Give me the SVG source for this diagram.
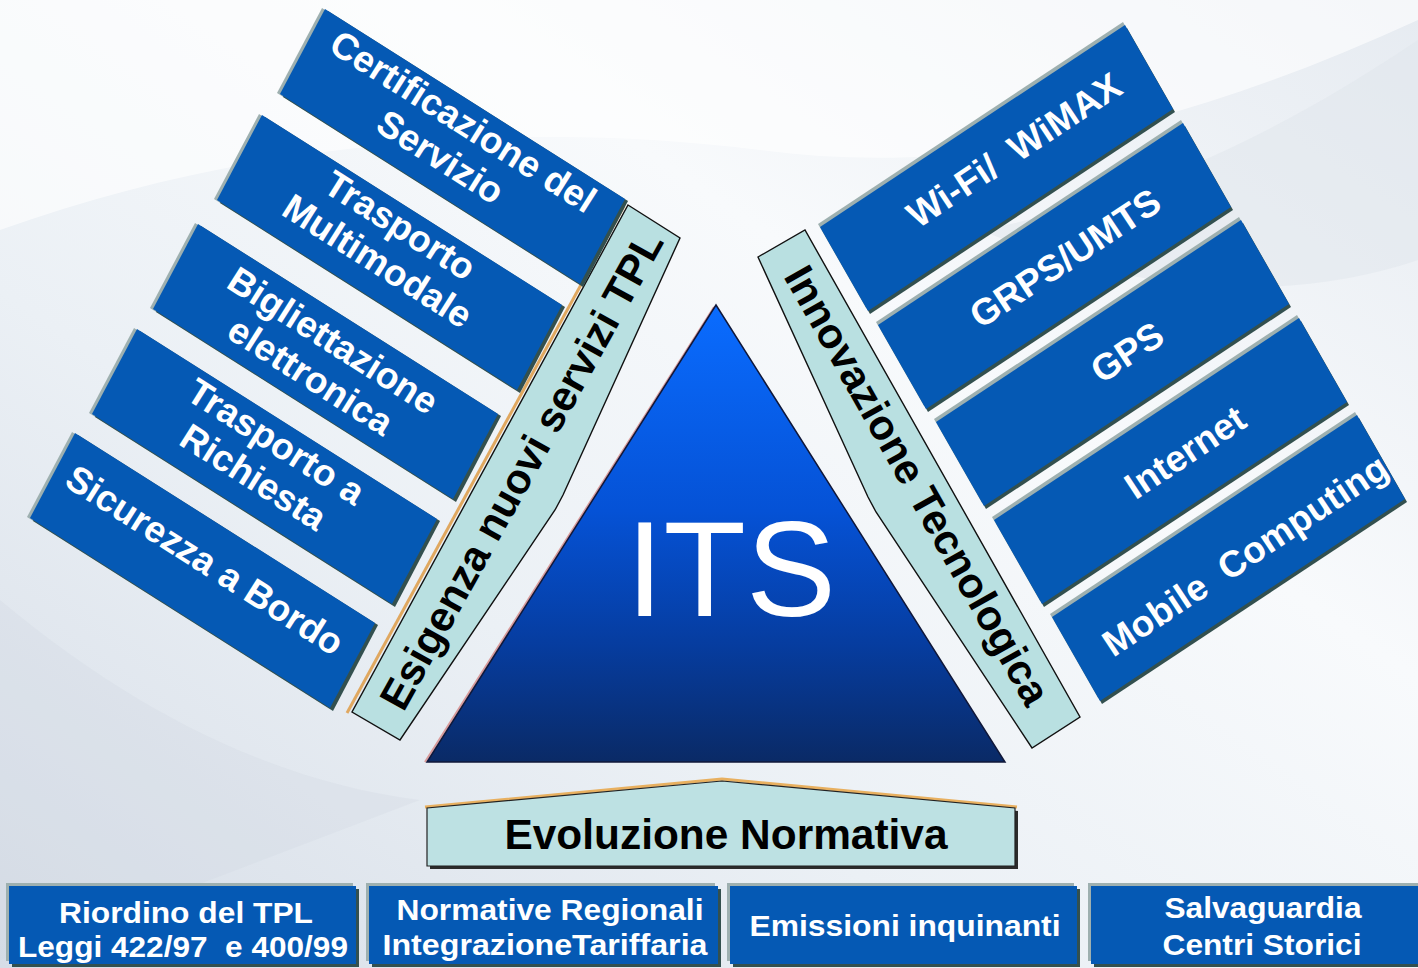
<svg xmlns="http://www.w3.org/2000/svg" width="1418" height="968" viewBox="0 0 1418 968">
<defs>
<linearGradient id="bg" x1="0" y1="1" x2="1" y2="0">
<stop offset="0" stop-color="#d6dde7"/>
<stop offset="0.35" stop-color="#ebf0f5"/>
<stop offset="0.65" stop-color="#f8fafc"/>
<stop offset="1" stop-color="#e6ebf1"/>
</linearGradient>
<linearGradient id="tri" x1="0" y1="0" x2="0" y2="1">
<stop offset="0" stop-color="#0a6cff"/>
<stop offset="0.45" stop-color="#0552d6"/>
<stop offset="0.75" stop-color="#063c9e"/>
<stop offset="1" stop-color="#0a2a66"/>
</linearGradient>
<style>
.box{fill:#0559b4}
.dk{fill:#33504f}
.lt{fill:#9eb0b0}
.wt{fill:#ffffff;font-family:"Liberation Sans",Arial,sans-serif;font-weight:bold;font-size:37px;text-anchor:middle}
.bt{fill:#ffffff;font-family:"Liberation Sans",Arial,sans-serif;font-weight:bold;font-size:30px;text-anchor:middle}
.band{fill:#b9e0e1;stroke:#111111;stroke-width:1.4;stroke-linejoin:miter}
.kt{fill:#000000;font-family:"Liberation Sans",Arial,sans-serif;font-weight:bold;font-size:42px;text-anchor:middle}
</style>
</defs>

<rect x="0" y="0" width="1418" height="968" fill="url(#bg)"/>
<path d="M0 230 C 250 140 520 120 760 150 C 980 180 1200 120 1418 20 L1418 0 L0 0 Z" fill="#ffffff" opacity="0.6"/>
<path d="M980 230 C 1150 200 1300 120 1418 40 L1418 260 C 1300 300 1150 300 980 230 Z" fill="#dfe5ec" opacity="0.5"/>
<path d="M0 600 C 120 700 260 780 420 800 L0 960 Z" fill="#cfd7e2" opacity="0.3"/>

<g id="triangle">
<polyline points="714,307 425,762" fill="none" stroke="#d89a9a" stroke-width="2"/>
<polygon points="716,305 427,762 1005,762" fill="url(#tri)" stroke="#10183a" stroke-width="1.5"/>
<text x="731" y="616" fill="#ffffff" font-family="Liberation Sans, Arial, sans-serif" font-size="135" text-anchor="middle">ITS</text>
</g>

<g id="left-band">
<polyline points="626,205 349,712" fill="none" stroke="#e0a860" stroke-width="3" transform="translate(-2,1)"/>
<polygon class="band" points="628,205 680,238 563,495 555,510 400,740 352,712"/>
<text class="kt" transform="translate(521,470) rotate(-61)" x="0" y="15">Esigenza nuovi servizi TPL</text>
</g>

<g id="right-band">
<polygon class="band" points="758,257 805,230 1080,717 1032,748 876,512 868,497"/>
<text class="kt" transform="translate(918,485) rotate(60.6)" x="0" y="15">Innovazione Tecnologica</text>
</g>

<g id="left-1">
<polygon class="lt" points="322,8 622,198 577,283 277,93"/>
<polygon class="dk" points="328,11 628,201 583,287 283,97"/>
<polygon class="box" points="325,9 625,199 580,284 280,94"/>
<g transform="translate(452,139) rotate(32.4)"><text class="wt" x="0" y="-8">Certificazione del</text><text class="wt" x="0" y="34">Servizio</text></g>
</g>
<g id="left-2">
<polygon class="lt" points="259,114 559,304 514,389 214,199"/>
<polygon class="dk" points="265,117 565,307 520,393 220,203"/>
<polygon class="box" points="262,115 562,305 517,390 217,200"/>
<g transform="translate(389,243) rotate(32.4)"><text class="wt" x="0" y="-8">Trasporto</text><text class="wt" x="0" y="34">Multimodale</text></g>
</g>
<g id="left-3">
<polygon class="lt" points="195,223 495,413 450,498 150,308"/>
<polygon class="dk" points="201,226 501,416 456,502 156,312"/>
<polygon class="box" points="198,224 498,414 453,499 153,309"/>
<g transform="translate(322,358) rotate(32.4)"><text class="wt" x="0" y="-8">Bigliettazione</text><text class="wt" x="0" y="34">elettronica</text></g>
</g>
<g id="left-4">
<polygon class="lt" points="134,328 434,518 389,603 89,413"/>
<polygon class="dk" points="140,331 440,521 395,607 95,417"/>
<polygon class="box" points="137,329 437,519 392,604 92,414"/>
<g transform="translate(265,459) rotate(32.4)"><text class="wt" x="0" y="-8">Trasporto a</text><text class="wt" x="0" y="34">Richiesta</text></g>
</g>
<g id="left-5">
<polygon class="lt" points="72,432 372,622 327,707 27,517"/>
<polygon class="dk" points="78,435 378,625 333,711 33,521"/>
<polygon class="box" points="75,433 375,623 330,708 30,518"/>
<g transform="translate(205,560) rotate(32.4)"><text class="wt" x="0" y="13">Sicurezza a Bordo</text></g>
</g>

<g id="right-1">
<polygon class="lt" points="818,224 1123,22 1171,106 866,308"/>
<polygon class="dk" points="822,230 1127,28 1175,112 870,314"/>
<polygon class="box" points="820,227 1125,25 1173,109 868,311"/>
<g transform="translate(1014,150) rotate(-33.5)"><text class="wt" x="0" y="13" xml:space="preserve">Wi-Fi/  WiMAX</text></g>
</g>
<g id="right-2">
<polygon class="lt" points="876,322 1181,120 1229,204 924,406"/>
<polygon class="dk" points="880,328 1185,126 1233,210 928,412"/>
<polygon class="box" points="878,325 1183,123 1231,207 926,409"/>
<g transform="translate(1065,258) rotate(-33.5)"><text class="wt" x="0" y="13">GRPS/UMTS</text></g>
</g>
<g id="right-3">
<polygon class="lt" points="934,419 1239,217 1287,301 982,503"/>
<polygon class="dk" points="938,425 1243,223 1291,307 986,509"/>
<polygon class="box" points="936,422 1241,220 1289,304 984,506"/>
<g transform="translate(1127,352) rotate(-33.5)"><text class="wt" x="0" y="13">GPS</text></g>
</g>
<g id="right-4">
<polygon class="lt" points="992,517 1297,315 1345,399 1040,601"/>
<polygon class="dk" points="996,523 1301,321 1349,405 1044,607"/>
<polygon class="box" points="994,520 1299,318 1347,402 1042,604"/>
<g transform="translate(1185,452) rotate(-33.5)"><text class="wt" x="0" y="13">Internet</text></g>
</g>
<g id="right-5">
<polygon class="lt" points="1050,614 1355,412 1403,496 1098,698"/>
<polygon class="dk" points="1054,620 1359,418 1407,502 1102,704"/>
<polygon class="box" points="1052,617 1357,415 1405,499 1100,701"/>
<g transform="translate(1245,555) rotate(-33.5)"><text class="wt" x="0" y="13" xml:space="preserve">Mobile  Computing</text></g>
</g>

<g id="evoluzione">
<polygon points="430,869 430,811 725,784 1018,811 1018,869" fill="#2b2b2b"/>
<polyline points="425,807 722,779 1017,807" fill="none" stroke="#e8b060" stroke-width="3"/>
<polygon points="427,866 427,808 722,781 1015,808 1015,866" fill="#bde1e3" stroke="#222222" stroke-width="1.2"/>
<text x="726" y="849" fill="#000000" font-family="Liberation Sans, Arial, sans-serif" font-weight="bold" font-size="42" text-anchor="middle" textLength="443" lengthAdjust="spacingAndGlyphs">Evoluzione Normativa</text>
</g>

<g id="riordino">
<rect class="lt" x="6" y="883" width="347" height="78"/>
<rect class="dk" x="12" y="889" width="347" height="78"/>
<rect class="box" x="9" y="886" width="347" height="78"/>
<text class="bt" x="186" y="923" textLength="254" lengthAdjust="spacingAndGlyphs">Riordino del TPL</text>
<text class="bt" x="183" y="957" textLength="330" lengthAdjust="spacingAndGlyphs" xml:space="preserve">Leggi 422/97  e 400/99</text>
</g>
<g id="normative">
<rect class="lt" x="366" y="883" width="349" height="78"/>
<rect class="dk" x="372" y="889" width="349" height="78"/>
<rect class="box" x="369" y="886" width="349" height="78"/>
<text class="bt" x="550" y="920" textLength="307" lengthAdjust="spacingAndGlyphs">Normative Regionali</text>
<text class="bt" x="545" y="955" textLength="325" lengthAdjust="spacingAndGlyphs">IntegrazioneTariffaria</text>
</g>
<g id="emissioni">
<rect class="lt" x="727" y="883" width="347" height="78"/>
<rect class="dk" x="733" y="889" width="347" height="78"/>
<rect class="box" x="730" y="886" width="347" height="78"/>
<text class="bt" x="905" y="936" textLength="311" lengthAdjust="spacingAndGlyphs">Emissioni inquinanti</text>
</g>
<g id="salvaguardia">
<rect class="lt" x="1088" y="883" width="340" height="78"/>
<rect class="dk" x="1094" y="889" width="340" height="78"/>
<rect class="box" x="1091" y="886" width="340" height="78"/>
<text class="bt" x="1263" y="918" textLength="197" lengthAdjust="spacingAndGlyphs">Salvaguardia</text>
<text class="bt" x="1262" y="955" textLength="199" lengthAdjust="spacingAndGlyphs">Centri Storici</text>
</g>
</svg>
